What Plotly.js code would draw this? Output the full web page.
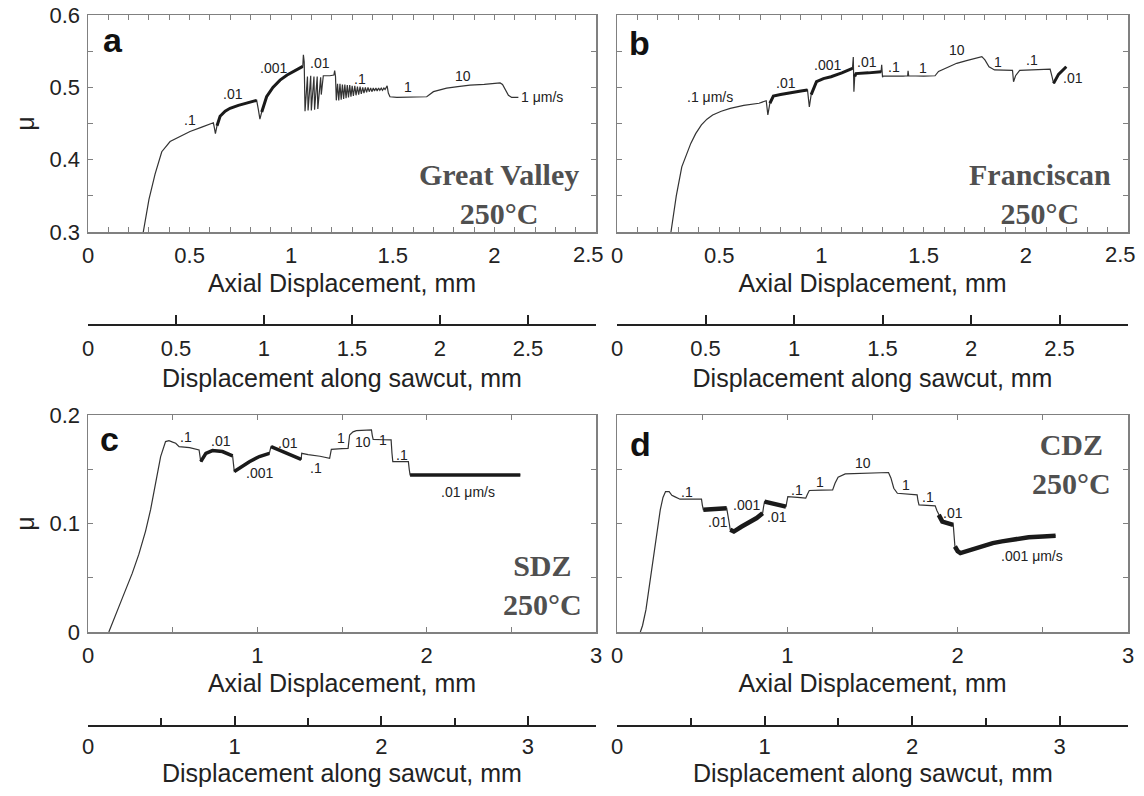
<!DOCTYPE html>
<html>
<head>
<meta charset="utf-8">
<script src="https://cdn.plot.ly/plotly-3.0.1.min.js"></script>
<style>html,body{margin:0;padding:0;background:#fff;}#chart{width:1144px;height:796px;}</style>
</head>
<body>
<div id="chart"></div>
<script>
// ---------------- DATA ----------------
// Panel a: Great Valley, 250°C  (axial displacement mm, friction μ)
const aX = [0.272,0.300,0.330,0.363,0.404,0.450,0.502,0.560,0.617,0.622,0.627,0.635,0.650,0.675,0.699,0.740,0.790,0.830,0.838,0.846,0.855,0.879,0.910,0.945,0.980,1.010,1.040,1.057,1.060,1.064,1.068,
  1.080,1.083,1.096,1.099,1.112,1.115,1.128,1.131,1.145,1.148,1.158,1.190,1.210,1.214,1.218,1.222,
  1.228,1.234,1.240,1.246,1.252,1.258,1.264,1.270,1.276,1.282,1.288,1.294,1.300,1.306,1.313,1.319,1.326,1.332,1.339,1.345,1.352,1.358,1.365,1.371,1.378,1.384,1.391,1.397,1.404,1.410,1.417,1.423,1.430,1.436,1.443,1.449,1.456,1.462,1.468,
  1.472,1.478,1.486,1.520,1.600,1.667,1.700,1.765,1.820,1.880,1.950,2.028,2.040,2.055,2.069,2.085,2.118];
const aY = [0.300,0.345,0.380,0.411,0.425,0.432,0.439,0.445,0.451,0.444,0.436,0.447,0.460,0.467,0.471,0.475,0.479,0.482,0.470,0.456,0.466,0.487,0.500,0.510,0.517,0.522,0.526,0.529,0.545,0.535,0.467,
  0.515,0.468,0.516,0.468,0.515,0.469,0.515,0.470,0.514,0.490,0.516,0.516,0.517,0.523,0.515,0.482,
  0.505,0.482,0.505,0.483,0.504,0.484,0.504,0.485,0.503,0.486,0.503,0.487,0.502,0.488,0.502,0.489,0.501,0.490,0.501,0.491,0.500,0.492,0.500,0.493,0.500,0.494,0.499,0.494,0.499,0.495,0.499,0.495,0.499,0.496,0.499,0.496,0.499,0.497,0.500,
  0.502,0.492,0.487,0.486,0.486,0.487,0.494,0.499,0.501,0.503,0.504,0.506,0.504,0.495,0.489,0.486,0.486];
const aNoisy = [[0.635,0.830],[0.855,1.057]];
const aLabels = ['.1','.01','.001','.01','.1','1','10','1 μm/s'];
const aLabX = [0.502,0.715,0.912,1.142,1.339,1.576,1.847,2.233];
const aLabY = [0.455,0.491,0.527,0.533,0.5115,0.500,0.516,0.487];

// Panel b: Franciscan, 250°C
const bX = [0.264,0.290,0.317,0.340,0.361,0.385,0.413,0.440,0.468,0.510,0.554,0.620,0.695,0.730,0.734,0.738,0.748,0.765,0.800,0.850,0.900,0.932,0.937,0.941,0.950,0.976,1.010,1.047,1.100,1.152,1.156,1.159,1.163,1.169,1.230,1.292,1.295,1.299,1.302,1.400,1.422,1.424,1.427,1.500,1.556,1.573,1.620,1.662,1.710,1.750,1.785,1.800,1.820,1.847,1.900,1.935,1.940,1.950,1.970,2.050,2.119,2.128,2.136,2.160,2.198];
const bY = [0.300,0.350,0.390,0.408,0.4225,0.436,0.448,0.456,0.4617,0.467,0.471,0.475,0.478,0.4815,0.470,0.462,0.478,0.488,0.490,0.493,0.495,0.4963,0.485,0.473,0.490,0.5078,0.512,0.5147,0.520,0.5263,0.542,0.494,0.515,0.519,0.520,0.5217,0.531,0.514,0.5156,0.5156,0.516,0.523,0.516,0.5156,0.516,0.522,0.528,0.5332,0.537,0.540,0.5424,0.538,0.5285,0.524,0.5235,0.5235,0.5078,0.516,0.5235,0.525,0.5253,0.515,0.5055,0.518,0.5285];
const bNoisy = [[0.748,0.932],[0.950,1.152],[1.163,1.292],[2.136,2.198]];
const bLabels = ['.1 μm/s','.01','.001','.01','.1','1','10','1','.1','.01'];
const bLabX = [0.457,0.826,1.029,1.222,1.354,1.495,1.662,1.864,2.031,2.233];
const bLabY = [0.487,0.5055,0.531,0.5354,0.5285,0.5263,0.5516,0.5354,0.5378,0.5124];

// Panel c: SDZ, 250°C
const cX = [0.123,0.160,0.202,0.261,0.300,0.340,0.370,0.399,0.429,0.458,0.478,0.500,0.518,0.538,0.600,0.656,0.661,0.666,0.696,0.735,0.794,0.854,0.859,0.864,0.893,0.953,1.012,1.071,1.076,1.081,1.130,1.190,1.259,1.262,1.300,1.370,1.427,1.432,1.437,1.500,1.536,1.545,1.565,1.585,1.674,1.679,1.684,1.740,1.790,1.795,1.800,1.850,1.892,1.897,1.902,2.000,2.200,2.400,2.553];
const cY = [0.000,0.015,0.031,0.054,0.0715,0.093,0.113,0.137,0.1617,0.1755,0.1764,0.175,0.174,0.1709,0.170,0.1678,0.163,0.157,0.1647,0.1672,0.1663,0.1623,0.155,0.148,0.151,0.157,0.1617,0.1647,0.168,0.1709,0.1678,0.1632,0.1592,0.1647,0.1635,0.162,0.160,0.165,0.1684,0.169,0.1693,0.1816,0.1845,0.1856,0.1862,0.181,0.1776,0.1772,0.177,0.165,0.157,0.157,0.157,0.150,0.1448,0.1448,0.1448,0.1448,0.1448];
const cNoisy = [[0.666,0.854],[0.864,1.071],[1.081,1.259],[1.902,2.553]];
const cLabels = ['.1','.01','.001','.01','.1','1','10','1','.1','.01 μm/s'];
const cLabX = [0.581,0.785,1.012,1.180,1.348,1.496,1.625,1.743,1.852,2.247];
const cLabY = [0.180,0.1764,0.147,0.1745,0.151,0.1785,0.1755,0.177,0.163,0.1294];

// Panel d: CDZ, 250°C
const dX = [0.137,0.150,0.170,0.190,0.211,0.232,0.254,0.270,0.285,0.306,0.322,0.338,0.370,0.430,0.496,0.501,0.507,0.570,0.644,0.655,0.665,0.686,0.730,0.771,0.820,0.855,0.860,0.866,0.918,0.992,0.997,1.003,1.060,1.108,1.118,1.129,1.200,1.266,1.280,1.298,1.340,1.450,1.594,1.608,1.625,1.646,1.700,1.762,1.767,1.773,1.820,1.868,1.878,1.889,1.910,1.974,1.979,1.984,2.000,2.016,2.050,2.100,2.150,2.206,2.260,2.312,2.370,2.417,2.500,2.575];
const dY = [0.000,0.006,0.0206,0.043,0.0666,0.090,0.1126,0.124,0.1294,0.1294,0.126,0.1248,0.1224,0.1224,0.1224,0.117,0.1126,0.1135,0.1141,0.104,0.0942,0.0926,0.097,0.1003,0.105,0.1095,0.115,0.1202,0.1187,0.1156,0.120,0.1248,0.124,0.1233,0.127,0.1304,0.1307,0.131,0.137,0.1426,0.1457,0.1465,0.147,0.142,0.1325,0.1279,0.127,0.1264,0.121,0.1172,0.1167,0.1163,0.112,0.108,0.1018,0.0988,0.088,0.0788,0.0745,0.0727,0.0745,0.0773,0.0795,0.0819,0.0835,0.085,0.086,0.0874,0.088,0.0887];
const dNoisy = [[0.507,0.644],[0.665,0.855],[0.866,0.992],[1.889,1.974],[1.984,2.575]];
const dLabels = ['.1','.01','.001','.01','.1','1','10','1','.1','.01','.001 μm/s'];
const dLabX = [0.412,0.591,0.760,0.939,1.056,1.193,1.446,1.699,1.826,1.974,2.438];
const dLabY = [0.1294,0.1018,0.1172,0.1064,0.131,0.1387,0.1555,0.1356,0.1248,0.1095,0.0696];

// Panel letters and sample names
const panelLetters = ['a','b','c','d'];
const sampleNames = ['Great Valley<br>250°C','Franciscan<br>250°C','SDZ<br>250°C','CDZ<br>250°C'];

// Axis titles
const axialTitle = 'Axial Displacement, mm';
const sawTitle = 'Displacement along sawcut, mm';
const muTitle = 'μ';

// Tick labels
const topAxialTicks = [0,0.5,1,1.5,2,2.5];
const topAxialText = ['0','0.5','1','1.5','2','2.5'];
const botAxialTicks = [0,1,2,3];
const botAxialText = ['0','1','2','3'];
const topSawTicks = [0,0.5,1,1.5,2,2.5];
const topSawText = ['0','0.5','1','1.5','2','2.5'];
const botSawTicks = [0,1,2,3];
const botSawText = ['0','1','2','3'];
const topMuTicks = [0.3,0.4,0.5,0.6];
const topMuText = ['0.3','0.4','0.5','0.6'];
const botMuTicks = [0,0.1,0.2];
const botMuText = ['0','0.1','0.2'];

// Sawcut is inclined 30° to the axis: sawcut displacement = axial / cos(30°)
const SAWCUT_ANGLE_DEG = 30;

// ---------------- BUILD ----------------
const W = 1144, H = 796;
const COS = Math.cos(SAWCUT_ANGLE_DEG * Math.PI / 180);
const SANS = 'Liberation Sans, Arial, sans-serif';
const SERIF = 'Liberation Serif, Times New Roman, serif';
const INK = '#333333';
const FRAME = '#808080';

function xd(l, r) { return [l / W, r / W]; }
function yd(t, b) { return [1 - b / H, 1 - t / H]; }

function noisyTrace(X, Y, ranges, xa, ya, w) {
  const x = [], y = [];
  ranges.forEach(r => {
    for (let i = 0; i < X.length; i++) {
      if (X[i] >= r[0] - 1e-9 && X[i] <= r[1] + 1e-9) { x.push(X[i]); y.push(Y[i]); }
    }
    x.push(null); y.push(null);
  });
  return {x, y, xaxis: xa, yaxis: ya, mode: 'lines', line: {color: '#1a1a1a', width: w}, connectgaps: false, hoverinfo: 'skip', showlegend: false};
}
function curve(X, Y, xa, ya) {
  return {x: X, y: Y, xaxis: xa, yaxis: ya, mode: 'lines', line: {color: INK, width: 1.2}, hoverinfo: 'skip', showlegend: false};
}
function empty(xa, ya) {
  return {x: [], y: [], xaxis: xa, yaxis: ya, mode: 'lines', showlegend: false, hoverinfo: 'skip'};
}

const data = [
  curve(aX, aY, 'x', 'y'), noisyTrace(aX, aY, aNoisy, 'x', 'y', 3),
  curve(bX, bY, 'x2', 'y2'), noisyTrace(bX, bY, bNoisy, 'x2', 'y2', 3),
  curve(cX, cY, 'x3', 'y3'), noisyTrace(cX, cY, cNoisy, 'x3', 'y3', 3.5),
  curve(dX, dY, 'x4', 'y4'), noisyTrace(dX, dY, dNoisy, 'x4', 'y4', 4.5),
  empty('x5', 'y'), empty('x6', 'y2'), empty('x7', 'y3'), empty('x8', 'y4')
];

const tickFont = {family: SANS, size: 22, color: '#222'};
const titleFont = {family: SANS, size: 25, color: '#222'};

function mainX(dom, anchor, range, tv, tt, minorD, standoff) {
  return {domain: dom, anchor, range, tickvals: tv, ticktext: tt, ticks: 'inside', ticklen: 5, tickwidth: 1, tickcolor: FRAME,
    minor: {dtick: minorD, ticks: 'inside', ticklen: 5, tickcolor: FRAME},
    showline: true, linecolor: FRAME, linewidth: 1.5, mirror: 'allticks', showgrid: false, zeroline: false,
    tickfont: tickFont, ticklabelstandoff: 3,
    title: {text: axialTitle, font: titleFont, standoff: standoff}};
}
function mainY(dom, anchor, range, tv, tt, labels) {
  return {domain: dom, anchor, range, tickvals: tv, ticktext: tt, ticks: 'inside', ticklen: 5, tickwidth: 1, tickcolor: FRAME,
    minor: {dtick: 0.05, ticks: 'inside', ticklen: 5, tickcolor: FRAME},
    showline: true, linecolor: FRAME, linewidth: 1.5, mirror: 'allticks', showgrid: false, zeroline: false,
    showticklabels: labels, tickfont: tickFont, ticklabelstandoff: 2,
    title: labels ? {text: muTitle, font: titleFont, standoff: 8} : {text: ''}};
}
function sawX(over, dom, pos, range, tv, tt, minorD, withTitle, lblStand) {
  return {overlaying: over, domain: dom, anchor: 'free', position: pos, side: 'bottom', range,
    tickvals: tv, ticktext: tt, ticks: 'inside', ticklen: 9, tickwidth: 2, tickcolor: '#222',
    minor: minorD ? {dtick: minorD, ticks: 'inside', ticklen: 7, tickwidth: 2, tickcolor: '#222'} : undefined,
    showline: true, linecolor: '#222', linewidth: 2, showgrid: false, zeroline: false,
    tickfont: tickFont, ticklabelstandoff: lblStand,
    title: withTitle ? {text: sawTitle, font: titleFont, standoff: 8} : {text: ''}};
}

const domA = xd(88, 596), domB = xd(617, 1128);
const domTop = yd(15, 232), domBot = yd(415, 632);

// last axial label of top panels sits just inside the frame end (as in the original figure)
const nTop = topAxialTicks.length - 1;
const topTV = topAxialTicks.slice(0, nTop), topTT = topAxialText.slice(0, nTop);

const layout = {
  width: W, height: H, autosize: false,
  margin: {l: 0, r: 0, t: 0, b: 0},
  paper_bgcolor: '#ffffff', plot_bgcolor: 'rgba(0,0,0,0)',
  showlegend: false,
  xaxis: mainX(domA, 'y', [0, 2.5], topTV, topTT, 0.1, 7),
  yaxis: mainY(domTop, 'x', [0.3, 0.6], topMuTicks, topMuText, true),
  xaxis2: mainX(domB, 'y2', [0, 2.5], topTV, topTT, 0.1, 7),
  yaxis2: mainY(domTop, 'x2', [0.3, 0.6], topMuTicks, topMuText, false),
  xaxis3: mainX(domA, 'y3', [0, 3], botAxialTicks, botAxialText, 0.5, 7),
  yaxis3: mainY(domBot, 'x3', [0, 0.2], botMuTicks, botMuText, true),
  xaxis4: mainX(domB, 'y4', [0, 3], botAxialTicks, botAxialText, 0.5, 7),
  yaxis4: mainY(domBot, 'x4', [0, 0.2], botMuTicks, botMuText, false),
  xaxis5: sawX('x', domA, 1 - 325 / H, [0, 2.5 / COS], topSawTicks, topSawText, null, true, 4),
  xaxis6: sawX('x2', domB, 1 - 325 / H, [0, 2.5 / COS], topSawTicks, topSawText, null, true, 4),
  xaxis7: sawX('x3', domA, 1 - 726 / H, [0, 3 / COS], botSawTicks, botSawText, 0.5, false, 1),
  xaxis8: sawX('x4', domB, 1 - 726 / H, [0, 3 / COS], botSawTicks, botSawText, 0.5, false, 1),
  annotations: []
};

['x', 'x2'].forEach(xa => layout.annotations.push({text: topAxialText[nTop], x: topAxialTicks[nTop], xref: xa,
  y: 1 - 254 / H, yref: 'paper', xshift: -8, showarrow: false, xanchor: 'center', yanchor: 'middle', font: tickFont}));

// lower sawcut titles placed as annotations (tighter spacing than Plotly allows)
['x3', 'x4'].forEach(xa => layout.annotations.push({text: sawTitle, x: 0.5, xref: xa + ' domain', y: 1 - 773 / H, yref: 'paper',
  showarrow: false, xanchor: 'center', yanchor: 'middle', font: titleFont}));

function addLabels(txt, X, Y, xa, ya) {
  txt.forEach((t, i) => layout.annotations.push({text: t, x: X[i], y: Y[i], xref: xa, yref: ya, showarrow: false,
    font: {family: SANS, size: 14, color: '#222'}, xanchor: 'center', yanchor: 'middle'}));
}
addLabels(aLabels, aLabX, aLabY, 'x', 'y');
addLabels(bLabels, bLabX, bLabY, 'x2', 'y2');
addLabels(cLabels, cLabX, cLabY, 'x3', 'y3');
addLabels(dLabels, dLabX, dLabY, 'x4', 'y4');

const letterPos = [[0.049, 0.885, 'x', 'y'], [0.045, 0.87, 'x2', 'y2'], [0.043, 0.889, 'x3', 'y3'], [0.046, 0.866, 'x4', 'y4']];
panelLetters.forEach((t, i) => {
  const p = letterPos[i];
  layout.annotations.push({text: '<b>' + t + '</b>', x: p[0], y: p[1], xref: p[2] + ' domain', yref: p[3] + ' domain',
    showarrow: false, font: {family: SANS, size: 34, color: '#111'}, xanchor: 'center', yanchor: 'middle'});
});
const namePos = [[0.809, 0.175, 'x', 'y'], [0.828, 0.175, 'x2', 'y2'], [0.894, 0.215, 'x3', 'y3'], [0.89, 0.774, 'x4', 'y4']];
sampleNames.forEach((t, i) => {
  const p = namePos[i];
  layout.annotations.push({text: '<b>' + t + '</b>', x: p[0], y: p[1], xref: p[2] + ' domain', yref: p[3] + ' domain',
    showarrow: false, align: 'center', font: {family: SERIF, size: 30, color: '#505050'}, xanchor: 'center', yanchor: 'middle'});
});

Plotly.newPlot('chart', data, layout, {staticPlot: true, displayModeBar: false});
</script>
</body>
</html>
